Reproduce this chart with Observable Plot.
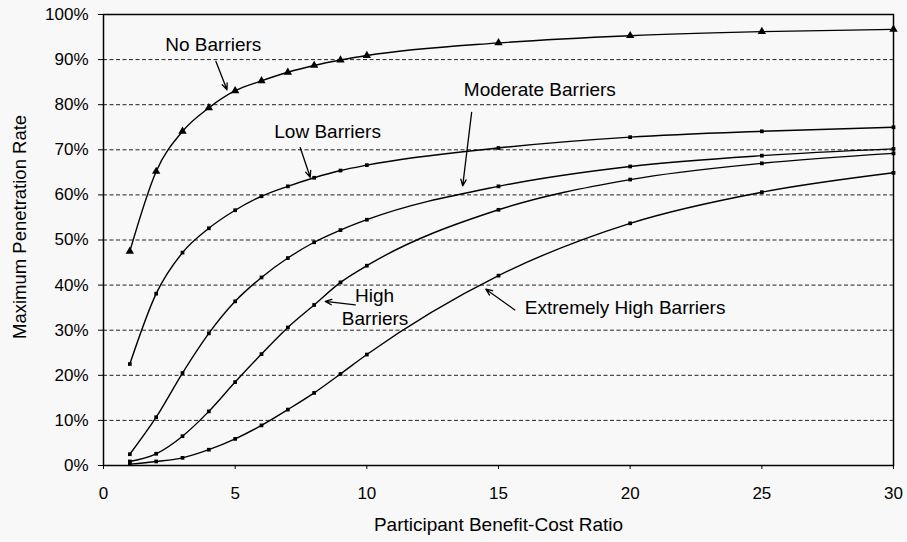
<!DOCTYPE html>
<html>
<head>
<meta charset="utf-8">
<script src="https://cdn.jsdelivr.net/npm/d3@7"></script>
<script src="https://cdn.jsdelivr.net/npm/@observablehq/plot@0.6"></script>
<style>
  html, body { margin: 0; padding: 0; background: #f8f8f8; }
  #chart svg { display: block; }
</style>
</head>
<body>
<div id="chart"></div>
<script>
// ---- data ----
const ratios = [1, 2, 3, 4, 5, 6, 7, 8, 9, 10, 15, 20, 25, 30];
const noBarriers       = [47.5, 65.2, 74.1, 79.3, 83.1, 85.3, 87.2, 88.7, 89.9, 90.9, 93.7, 95.3, 96.2, 96.7];
const lowBarriers      = [22.5, 38.1, 47.2, 52.6, 56.6, 59.7, 61.9, 63.8, 65.4, 66.6, 70.4, 72.8, 74.1, 75.0];
const moderateBarriers = [2.5, 10.7, 20.5, 29.3, 36.4, 41.7, 46.0, 49.5, 52.2, 54.5, 61.9, 66.3, 68.7, 70.2];
const highBarriers     = [0.9, 2.6, 6.5, 12.0, 18.5, 24.7, 30.6, 35.6, 40.6, 44.3, 56.7, 63.4, 67.0, 69.2];
const extremeBarriers  = [0.3, 0.9, 1.7, 3.5, 5.9, 8.9, 12.4, 16.1, 20.3, 24.6, 42.1, 53.7, 60.6, 64.9];

const seriesNames = ["No Barriers", "Low Barriers", "Moderate Barriers", "High Barriers", "Extremely High Barriers"];
const seriesValues = [noBarriers, lowBarriers, moderateBarriers, highBarriers, extremeBarriers];

const xTicks = [0, 5, 10, 15, 20, 25, 30];
const yTicks = [0, 10, 20, 30, 40, 50, 60, 70, 80, 90, 100];
const xTitle = "Participant Benefit-Cost Ratio";
const yTitle = "Maximum Penetration Rate";

// annotation labels (data units)
const labelTexts = ["No Barriers", "Low Barriers", "Moderate Barriers", "High", "Barriers", "Extremely High Barriers"];
const labelX = [4.17, 8.51, 16.57, 9.55, 9.05, 16.0];
const labelY = [93.3, 73.9, 83.3, 37.6, 32.5, 35.0];
const labelAnchors = ["middle", "middle", "middle", "start", "start", "start"];
// arrows (data units)
const arrowX1 = [4.27, 7.47, 13.98, 9.56, 15.62];
const arrowY1 = [89.6, 70.5, 78.3, 35.6, 34.5];
const arrowX2 = [4.69, 7.85, 13.64, 8.42, 14.52];
const arrowY2 = [83.3, 63.9, 62.0, 36.4, 39.1];
// y-axis title position (data units, outside the frame)
const yTitleX = -3.15;
const yTitleY = 52.9;

// ---- build tables ----
const rows = [];
seriesNames.forEach((name, i) => {
  ratios.forEach((r, j) => rows.push({series: name, x: r, y: seriesValues[i][j]}));
});
const labels = labelTexts.map((t, i) => ({text: t, x: labelX[i], y: labelY[i], anchor: labelAnchors[i]}));
const arrows = arrowX1.map((d, i) => ({x1: arrowX1[i], y1: arrowY1[i], x2: arrowX2[i], y2: arrowY2[i]}));

const font = "'Liberation Sans', Arial, Helvetica, sans-serif";

const chart = Plot.plot({
  width: 907,
  height: 542,
  marginLeft: 103,
  marginRight: 14,
  marginTop: 14,
  marginBottom: 77,
  style: {fontFamily: font, background: "#f8f8f8", color: "#000", overflow: "visible"},
  x: {domain: [0, 30]},
  y: {domain: [0, 100]},
  marks: [
    Plot.gridY(yTicks.filter(d => d > 0 && d < 100), {stroke: "#222", strokeOpacity: 1, strokeWidth: 1, strokeDasharray: "4,2.5"}),
    Plot.frame({stroke: "#000", strokeWidth: 1.5}),
    Plot.axisY({ticks: yTicks, tickFormat: d => d + "%", tickSize: 5, tickPadding: 10, fontSize: 17, label: null, stroke: "#000"}),
    Plot.axisX({ticks: xTicks, tickFormat: d => String(d), tickSize: 4, tickPadding: 17, fontSize: 17, label: null, stroke: "#000"}),
    Plot.text([xTitle], {text: d => d, frameAnchor: "bottom", dy: 59, fontSize: 19, lineAnchor: "middle"}),
    Plot.text([yTitle], {text: d => d, x: () => yTitleX, y: () => yTitleY, rotate: -90, fontSize: 18.5, lineAnchor: "middle", textAnchor: "middle"}),
    Plot.line(rows, {x: "x", y: "y", z: "series", stroke: "#000", strokeWidth: 1.4, curve: "monotone-x"}),
    Plot.dot(rows.filter(d => d.series === "No Barriers"), {x: "x", y: "y", symbol: "triangle", r: 3.1, fill: "#000"}),
    Plot.dot(rows.filter(d => d.series !== "No Barriers"), {x: "x", y: "y", symbol: "square", r: 2.1, fill: "#000"}),
    Plot.arrow(arrows, {x1: "x1", y1: "y1", x2: "x2", y2: "y2", stroke: "#000", strokeWidth: 1.3, headLength: 8, headAngle: 45}),
    Plot.text(labels.filter(d => d.anchor === "middle"), {x: "x", y: "y", text: "text", fontSize: 19, textAnchor: "middle", lineAnchor: "middle", fill: "#000"}),
    Plot.text(labels.filter(d => d.anchor === "start"), {x: "x", y: "y", text: "text", fontSize: 19, textAnchor: "start", lineAnchor: "middle", fill: "#000"})
  ]
});
document.getElementById("chart").appendChild(chart);
</script>
</body>
</html>
